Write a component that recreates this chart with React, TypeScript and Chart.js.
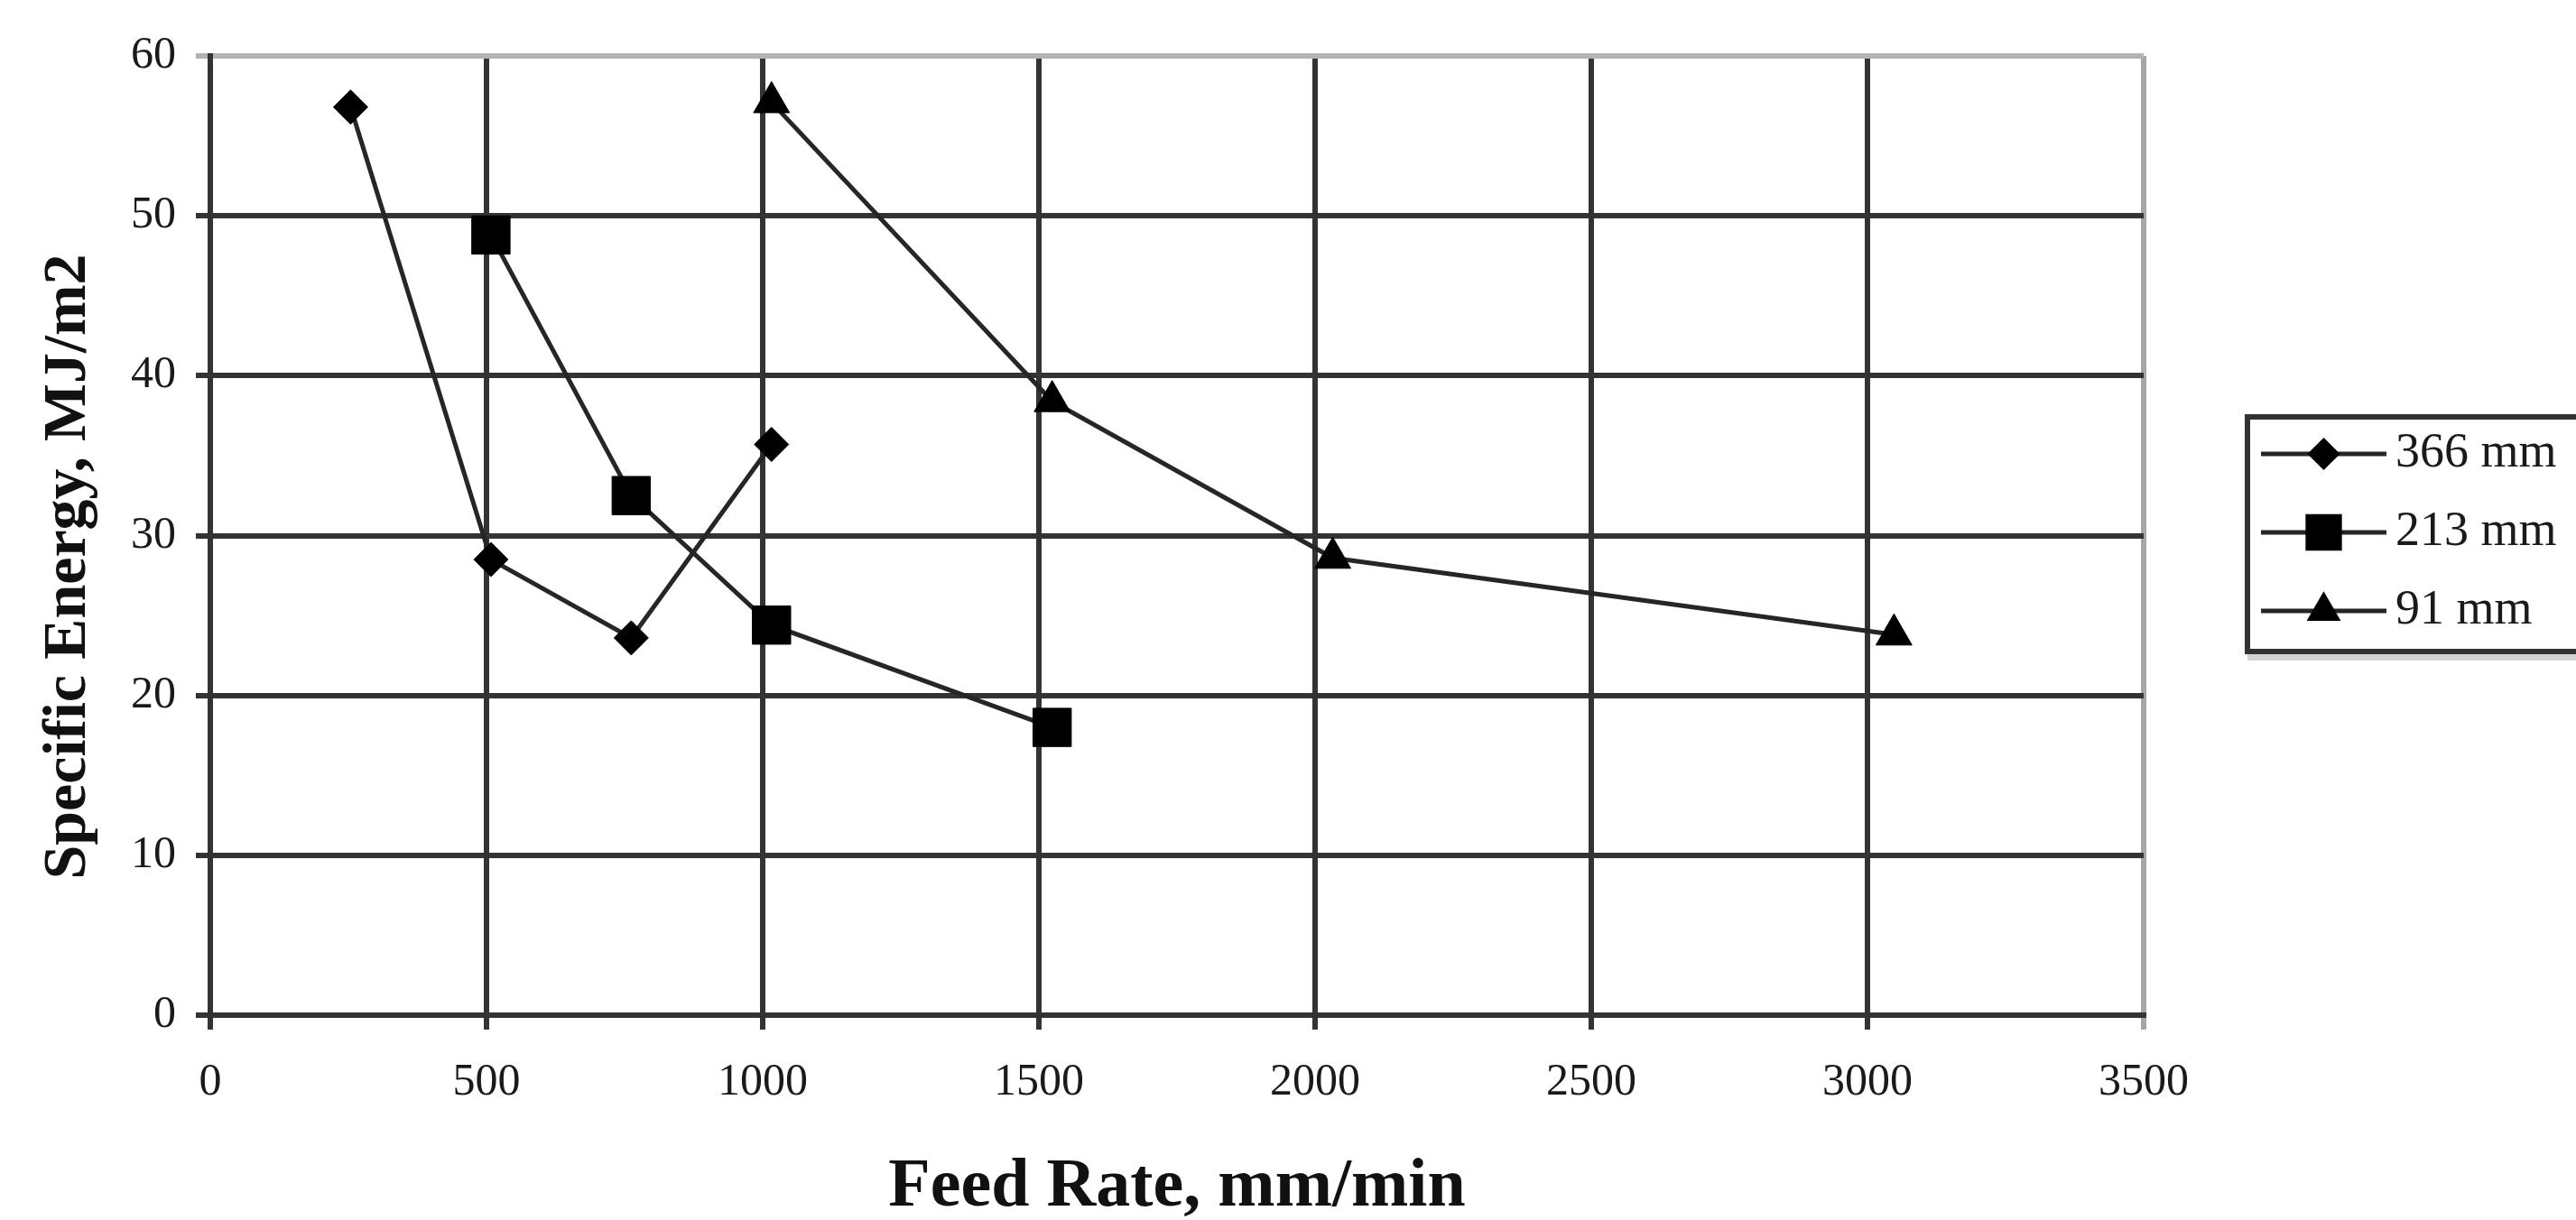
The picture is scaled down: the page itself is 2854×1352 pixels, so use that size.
import React, { useEffect, useRef } from 'react';
import { Chart, registerables } from 'chart.js';

Chart.register(...registerables);

// ---- data ----
const seriesLabels = ['366 mm', '213 mm', '91 mm'];
const feed366 = [254, 508, 762, 1016];
const energy366 = [56.8, 28.5, 23.6, 35.7];
const feed213 = [508, 762, 1016, 1524];
const energy213 = [48.8, 32.5, 24.4, 18.0];
const feed91 = [1016, 1524, 2032, 3048];
const energy91 = [57.1, 38.4, 28.6, 23.8];

const xTitle = 'Feed Rate, mm/min';
const yTitle = 'Specific Energy, MJ/m2';
const xMin = 0;
const xMax = 3500;
const xStep = 500;
const yMin = 0;
const yMax = 60;
const yStep = 10;

// ---- styles ----
const pointStyles = ['rectRot', 'rect', 'triangle'];
const pointRadii = [19, 30, 23];
const W = 2854;
const H = 1352;
const FONT = "'Liberation Serif', 'Times New Roman', serif";
const GRID_DARK = '#333333';
const GRID_LIGHT = '#b3b3b3';

function drawMarker(ctx: CanvasRenderingContext2D, style: string, x: number, y: number, r: number) {
  ctx.beginPath();
  if (style === 'rect') {
    const s = Math.SQRT1_2 * r;
    ctx.rect(x - s, y - s, 2 * s, 2 * s);
  } else if (style === 'rectRot') {
    ctx.moveTo(x - r, y);
    ctx.lineTo(x, y - r);
    ctx.lineTo(x + r, y);
    ctx.lineTo(x, y + r);
    ctx.closePath();
  } else {
    const a = (2 * Math.PI) / 3;
    ctx.moveTo(x, y - r);
    ctx.lineTo(x + Math.sin(a) * r, y - Math.cos(a) * r);
    ctx.lineTo(x + Math.sin(2 * a) * r, y - Math.cos(2 * a) * r);
    ctx.closePath();
  }
  ctx.fill();
}

const customPlugin = {
  id: 'customDecor',
  afterDraw(chart: any, _args: any, opts: any) {
    const ctx: CanvasRenderingContext2D = chart.ctx;
    // Y axis title
    ctx.save();
    ctx.translate(opts.yTitleX, opts.yTitleY);
    ctx.rotate(-Math.PI / 2);
    ctx.font = `bold ${opts.yTitleSize}px ${FONT}`;
    ctx.fillStyle = '#111';
    ctx.textAlign = 'center';
    ctx.textBaseline = 'middle';
    ctx.fillText(yTitle, 0, 0);
    ctx.restore();

    // Legend
    const lg = opts.legend;
    ctx.save();
    ctx.fillStyle = '#d4d4d4';
    ctx.fillRect(lg.left, lg.top + lg.height + 3, lg.width, 7);
    ctx.strokeStyle = '#333333';
    ctx.lineWidth = 6;
    ctx.strokeRect(lg.left, lg.top, lg.width, lg.height);
    chart.data.datasets.forEach((ds: any, i: number) => {
      const y = lg.firstY + i * lg.rowGap;
      ctx.strokeStyle = ds.borderColor;
      ctx.lineWidth = ds.borderWidth;
      ctx.beginPath();
      ctx.moveTo(lg.lineX0, y);
      ctx.lineTo(lg.lineX1, y);
      ctx.stroke();
      ctx.fillStyle = ds.pointBackgroundColor;
      drawMarker(ctx, ds.pointStyle, (lg.lineX0 + lg.lineX1) / 2, y, ds.pointRadius * lg.markerScale);
      ctx.fillStyle = '#1a1a1a';
      ctx.font = `${lg.fontSize}px ${FONT}`;
      ctx.textAlign = 'left';
      ctx.textBaseline = 'middle';
      ctx.fillText(ds.label, lg.textX, y);
    });
    ctx.restore();
  },
};

export default function App() {
  const ref = useRef<HTMLCanvasElement | null>(null);

  useEffect(() => {
    if (!ref.current) return;
    const makeSet = (i: number, xs: number[], ys: number[]) => ({
      label: seriesLabels[i],
      data: xs.map((x, k) => ({ x, y: ys[k] })),
      borderColor: '#262626',
      borderWidth: 5,
      pointStyle: pointStyles[i],
      pointRadius: pointRadii[i],
      pointBackgroundColor: '#000',
      pointBorderColor: '#000',
      pointBorderWidth: 1,
      showLine: true,
      tension: 0,
      fill: false,
    });

    const chart = new Chart(ref.current, {
      type: 'scatter',
      data: {
        datasets: [
          makeSet(0, feed366, energy366),
          makeSet(1, feed213, energy213),
          makeSet(2, feed91, energy91),
        ],
      },
      options: {
        animation: false,
        responsive: true,
        maintainAspectRatio: false,
        devicePixelRatio: 1,
        layout: { padding: { top: 62, right: W - 2375, left: 0, bottom: 0 } },
        plugins: {
          legend: { display: false },
          tooltip: { enabled: false },
          customDecor: {
            yTitleX: 76,
            yTitleY: 628,
            yTitleSize: 68,
            legend: {
              left: 2490,
              top: 462,
              width: 500,
              height: 260,
              firstY: 503,
              rowGap: 87,
              lineX0: 2505,
              lineX1: 2644,
              textX: 2654,
              fontSize: 54,
              markerScale: 0.95,
            },
          },
        } as any,
        scales: {
          x: {
            type: 'linear',
            min: xMin,
            max: xMax,
            ticks: {
              stepSize: xStep,
              color: '#1a1a1a',
              padding: 29,
              font: { family: FONT, size: 50 },
              maxRotation: 0,
              callback: (v: any) => String(v),
            },
            grid: {
              color: (c: any) => (c.tick && c.tick.value === xMax ? '#a6a6a6' : GRID_DARK),
              lineWidth: 6,
              tickLength: 16,
            },
            border: { color: GRID_DARK, width: 6 },
            title: {
              display: true,
              text: xTitle,
              color: '#111',
              font: { family: FONT, size: 76, weight: 'bold', lineHeight: 1 },
              padding: { top: 0, bottom: -2 },
            },
            afterFit: (s: any) => {
              s.height = H - 1125;
            },
          },
          y: {
            type: 'linear',
            min: yMin,
            max: yMax,
            ticks: {
              stepSize: yStep,
              color: '#1a1a1a',
              padding: 22,
              font: { family: FONT, size: 50 },
              callback: (v: any) => String(v),
            },
            grid: {
              color: (c: any) => (c.tick && c.tick.value === yMax ? GRID_LIGHT : GRID_DARK),
              lineWidth: 6,
              tickLength: 16,
            },
            border: { color: GRID_DARK, width: 6 },
            afterFit: (s: any) => {
              s.width = 233;
            },
          },
        },
      } as any,
      plugins: [customPlugin as any],
    });
    return () => chart.destroy();
  }, []);

  return (
    <div style={{ position: 'fixed', left: 0, top: 0, width: W, height: H, background: '#fff' }}>
      <canvas ref={ref} />
    </div>
  );
}
